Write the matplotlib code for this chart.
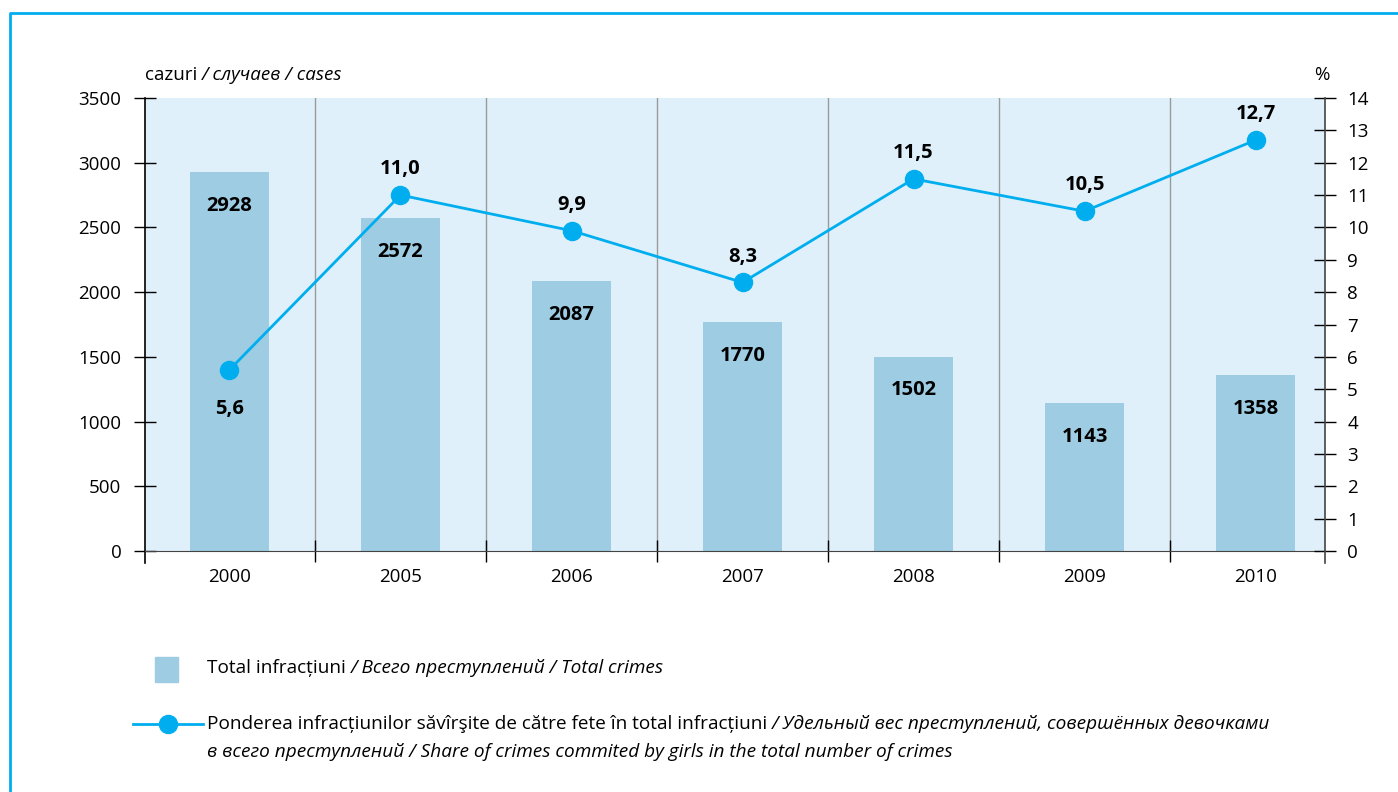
from matplotlib import pyplot as plt
from matplotlib.lines import Line2D
from matplotlib.patches import Rectangle

plt.rcParams['font.family'] = ['Open Sans', 'Noto Sans', 'DejaVu Sans']

# date
years = ['2000', '2005', '2006', '2007', '2008', '2009', '2010']
total_crimes = [2928, 2572, 2087, 1770, 1502, 1143, 1358]
share_girls = [5.6, 11.0, 9.9, 8.3, 11.5, 10.5, 12.7]
share_labels = ['5,6', '11,0', '9,9', '8,3', '11,5', '10,5', '12,7']

bar_color = '#9dcce3'
bg_color = '#dff0fa'
line_color = '#00aeef'

fig = plt.figure(figsize=(13.98, 7.92), dpi=100)
ax = fig.add_axes([145/1398, 1-551/792, 1180/1398, 453/792])
ax.set_facecolor(bg_color)

x = list(range(len(years)))
ax.bar(x, total_crimes, width=0.46, color=bar_color, zorder=2)
for xi, v in zip(x, total_crimes):
    ax.text(xi, v - 260, str(v), ha='center', va='center',
            fontsize=14.5, fontweight='bold', zorder=5)

# linii verticale intre ani
for b in range(len(years) - 1):
    ax.axvline(b + 0.5, color='#9a9a9a', lw=1, zorder=1)

ax.set_xlim(-0.494, 6.406)
ax.set_ylim(0, 3500)
ax.set_yticks(range(0, 3501, 500))
ax.set_xticks([b + 0.5 for b in range(len(years) - 1)])
ax.set_xticklabels([])
ax.set_xticks(x, minor=True)
ax.set_xticklabels(years, minor=True)
ax.tick_params(axis='x', which='minor', length=0, pad=12, labelsize=13.5)
ax.tick_params(axis='x', which='major', direction='inout', length=16, width=1)
ax.tick_params(axis='y', direction='inout', length=16, width=1, labelsize=13.5, pad=9)
for s in ['top', 'right']:
    ax.spines[s].set_visible(False)
ax.spines['left'].set_bounds(-90, 3500)
ax.spines['bottom'].set_color('#444444')
ax.spines['left'].set_linewidth(1.2)

ax2 = ax.twinx()
ax2.set_ylim(0, 14)
ax2.set_yticks(range(0, 15))
ax2.plot(x, share_girls, color=line_color, lw=2, marker='o', ms=13,
         markeredgecolor=line_color, zorder=4)
for xi, v, lab in zip(x, share_girls, share_labels):
    dy = -1.2 if xi == 0 else 0.8
    ax2.text(xi, v + dy, lab, ha='center', va='center',
             fontsize=14.5, fontweight='bold')
ax2.tick_params(axis='y', direction='inout', length=16, width=1, labelsize=13.5, pad=8)
for s in ['top', 'left', 'bottom']:
    ax2.spines[s].set_visible(False)
ax2.spines['right'].set_bounds(-0.36, 14)
ax2.spines['right'].set_color('#444444')
ax2.spines['right'].set_linewidth(1.2)

# rama
fig.add_artist(Line2D([9.5/1398, 9.5/1398, 1], [0, 1-13/792, 1-13/792],
                      color=line_color, lw=2, transform=fig.transFigure))

renderer = fig.canvas.get_renderer()


def mixed_text(xpx, ypx, parts, size=13.5):
    # parts: (text, style)
    cur = xpx / 1398
    for txt, style in parts:
        t = fig.text(cur, 1 - ypx / 792, txt, fontsize=size, style=style,
                     ha='left', va='center')
        bb = t.get_window_extent(renderer=renderer)
        cur += bb.width / 1398
    return cur


mixed_text(145, 75, [('cazuri ', 'normal'), ('/ случаев / cases', 'italic')])
fig.text(1322/1398, 1 - 75/792, '%', fontsize=13.5, ha='center', va='center')

# legenda
fig.add_artist(Rectangle((155/1398, 1-682/792), 23/1398, 25/792,
                         color=bar_color, transform=fig.transFigure))
mixed_text(207, 668, [('Total infracțiuni ', 'normal'),
                      ('/ Всего преступлений / Total crimes', 'italic')], size=13.7)

fig.add_artist(Line2D([133/1398, 203/1398], [1-724/792, 1-724/792],
                      color=line_color, lw=2, transform=fig.transFigure))
fig.add_artist(Line2D([168/1398], [1-724/792], marker='o', ms=13,
                      color=line_color, transform=fig.transFigure))
mixed_text(207, 724, [('Ponderea infracțiunilor săvîrşite de către fete în total infracțiuni ', 'normal'),
                      ('/ Удельный вес преступлений, совершённых девочками', 'italic')], size=13.7)
mixed_text(207, 752, [('в всего преступлений / Share of crimes commited by girls in the total number of crimes', 'italic')], size=13.7)

fig.savefig('out.png', dpi=100)
